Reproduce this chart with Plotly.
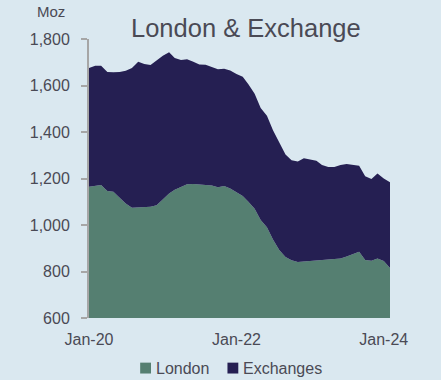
import pandas as pd
import plotly.graph_objects as go

months = pd.date_range("2020-01-01", periods=50, freq="MS")

london = [1165, 1168, 1172, 1146, 1143, 1117, 1093, 1074, 1076, 1076,
          1078, 1085, 1110, 1135, 1152, 1165, 1175, 1176, 1175, 1174,
          1170, 1162, 1168, 1157, 1142, 1125, 1100, 1070, 1022, 990,
          938, 893, 862, 848, 841, 843, 845, 847, 849, 850,
          851, 856, 865, 875, 885, 850, 846, 856, 845, 815]

total = [1675, 1685, 1685, 1658, 1657, 1658, 1663, 1675, 1702, 1693,
         1688, 1708, 1728, 1743, 1718, 1710, 1713, 1702, 1690, 1689,
         1680, 1670, 1672, 1665, 1650, 1638, 1605, 1565, 1503, 1470,
         1407, 1358, 1303, 1278, 1273, 1287, 1283, 1276, 1258, 1250,
         1250, 1258, 1262, 1260, 1255, 1210, 1198, 1222, 1200, 1184]

exchanges = [t - l for t, l in zip(total, london)]

series_names = ["London", "Exchanges"]
series_colors = ["#557F71", "#251F52"]
y_ticks = [600, 800, 1000, 1200, 1400, 1600, 1800]
x_ticks = ["2020-01-01", "2022-01-01", "2024-01-01"]

BG = "#DAE8F0"
TXT = "#4A4A55"
FONT = "Liberation Sans, Arial, sans-serif"

fig = go.Figure()
for name, vals, col in zip(series_names, [london, exchanges], series_colors):
    fig.add_trace(go.Scatter(
        x=months, y=vals, name=name, stackgroup="one",
        mode="lines", line=dict(width=0, color=col),
        fillcolor=col, showlegend=False, hoverinfo="skip",
    ))

fig.update_layout(
    width=441, height=380,
    paper_bgcolor=BG, plot_bgcolor=BG,
    margin=dict(l=89, r=51, t=39, b=62),
    font=dict(family=FONT, color=TXT, size=16),
    showlegend=False,
)
fig.update_yaxes(
    range=[600, 1800], tickvals=y_ticks, tickformat=",d",
    showgrid=False, zeroline=False,
    showline=True, linecolor="#A6A6A6", linewidth=2,
    ticks="outside", ticklen=6, tickwidth=2, tickcolor="#A6A6A6",
    ticklabelstandoff=8, tickfont=dict(size=16, color=TXT),
)
fig.update_xaxes(
    range=["2020-01-01", "2024-02-01"], tickvals=x_ticks, tickformat="%b-%y",
    showgrid=False, zeroline=False, showline=False, ticks="",
    ticklabelstandoff=10, tickfont=dict(size=16, color=TXT),
)

# title and unit label
fig.add_annotation(text="London & Exchange", xref="paper", yref="paper",
                   x=0.523, y=1.039, xanchor="center", yanchor="middle",
                   showarrow=False, font=dict(size=25.5, color=TXT, family=FONT))
fig.add_annotation(text="Moz", xref="paper", yref="paper",
                   x=-0.18, y=1.097, xanchor="left", yanchor="middle",
                   showarrow=False, font=dict(size=15, color=TXT, family=FONT))

# legend built from shapes + text
leg = [(0.17, series_names[0], series_colors[0]),
       (0.46, series_names[1], series_colors[1])]
for x0, name, col in leg:
    fig.add_shape(type="rect", xref="paper", yref="paper",
                  x0=x0, x1=x0 + 0.036, y0=-0.160, y1=-0.199,
                  fillcolor=col, line=dict(width=0))
    fig.add_annotation(text=name, xref="paper", yref="paper",
                       x=x0 + 0.046, y=-0.180, xanchor="left", yanchor="middle",
                       showarrow=False, font=dict(size=16, color=TXT, family=FONT))

fig.write_html("out.html", config={"displayModeBar": False},
               post_script="document.body.style.margin='0';document.body.style.overflow='hidden';")
